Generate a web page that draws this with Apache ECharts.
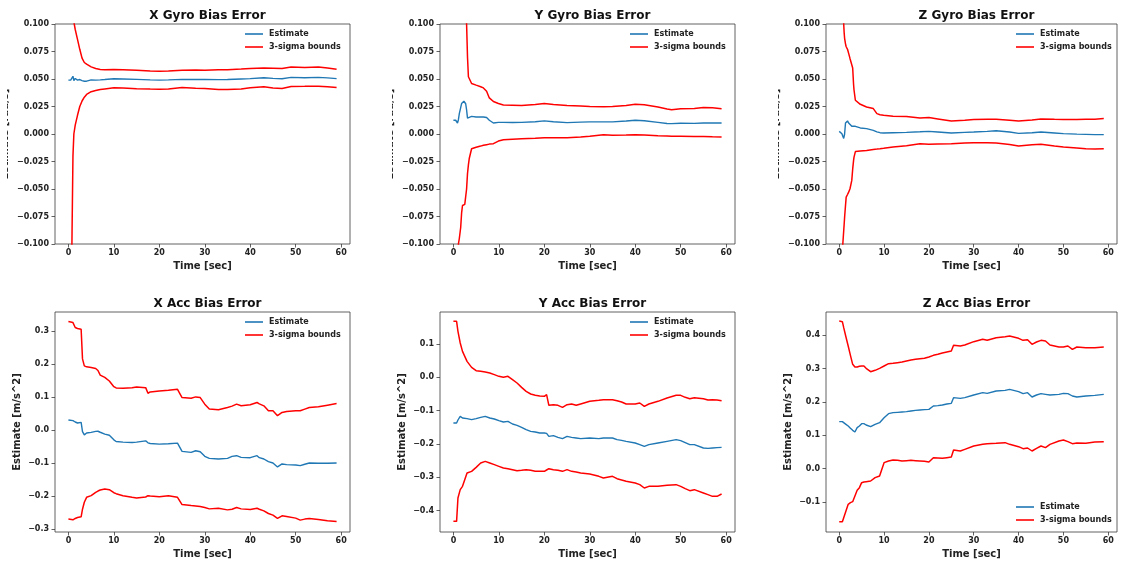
<!DOCTYPE html>
<html>
<head>
<meta charset="utf-8">
<script src="https://cdn.jsdelivr.net/npm/echarts@6/dist/echarts.min.js"></script>
<style>
  html, body { margin: 0; padding: 0; background: #ffffff; }
  #chart { width: 1121px; height: 563px; }
</style>
</head>
<body>
<div id="chart"></div>
<script>
// ---- X gyro bias ----
const xGyroTime = [0, 0.5, 0.8, 1.0, 1.2, 1.5, 2, 2.5, 3, 3.5, 4, 5, 6, 7, 8, 10, 12, 15, 18, 20, 22, 25, 28, 30, 33, 35, 38, 40, 43, 45, 47, 49, 52, 55, 57, 59];
const xGyroEst = [0.049, 0.049, 0.050, 0.0525, 0.0485, 0.0505, 0.049, 0.0495, 0.0485, 0.048, 0.048, 0.0492, 0.049, 0.0492, 0.0495, 0.0502, 0.050, 0.0497, 0.0492, 0.049, 0.0492, 0.0497, 0.0495, 0.0496, 0.0494, 0.0495, 0.050, 0.0503, 0.0512, 0.0506, 0.0502, 0.0515, 0.0512, 0.0515, 0.051, 0.0503];
const xGyroUp = [0.5, 0.3, 0.18, 0.125, 0.102, 0.095, 0.086, 0.077, 0.069, 0.065, 0.0635, 0.061, 0.0595, 0.0587, 0.0585, 0.0587, 0.0585, 0.058, 0.0572, 0.057, 0.0573, 0.058, 0.0582, 0.058, 0.0585, 0.0585, 0.059, 0.0596, 0.060, 0.0598, 0.0595, 0.061, 0.0605, 0.0608, 0.060, 0.0588];
const xGyroLo = [-0.4, -0.2, -0.09, -0.02, 0.0, 0.008, 0.017, 0.025, 0.030, 0.0335, 0.036, 0.0385, 0.0395, 0.0405, 0.041, 0.042, 0.0418, 0.0412, 0.0408, 0.0407, 0.041, 0.0422, 0.0415, 0.0413, 0.0405, 0.0404, 0.041, 0.042, 0.0429, 0.0418, 0.0413, 0.0432, 0.0433, 0.0435, 0.043, 0.0422];

// ---- Y gyro bias ----
const yGyroTime = [0, 0.5, 0.9, 1.1, 1.3, 1.6, 1.8, 2.0, 2.3, 2.5, 2.7, 2.9, 3.1, 3.3, 3.5, 4, 5, 6, 6.6, 7.3, 7.9, 8.8, 9.9, 11, 13, 15, 18, 20, 22, 25, 28, 30, 33, 35, 38, 40, 42, 45, 47, 48, 50, 53, 55, 57, 59];
const yGyroEst = [0.0125, 0.0125, 0.010, 0.013, 0.0185, 0.024, 0.0277, 0.029, 0.0298, 0.0295, 0.0275, 0.022, 0.0145, 0.014, 0.0155, 0.016, 0.0155, 0.0155, 0.0155, 0.015, 0.0125, 0.010, 0.0106, 0.0106, 0.0105, 0.0106, 0.0112, 0.0119, 0.0112, 0.0103, 0.0108, 0.011, 0.011, 0.011, 0.0118, 0.0125, 0.012, 0.0106, 0.0095, 0.0094, 0.0098, 0.0097, 0.0100, 0.0101, 0.0100];
const yGyroUp = [0.6, 0.45, 0.35, 0.3, 0.27, 0.23, 0.2, 0.18, 0.15, 0.13, 0.115, 0.1, 0.07, 0.052, 0.0505, 0.0459, 0.0444, 0.043, 0.0419, 0.0389, 0.0328, 0.0295, 0.0277, 0.0264, 0.0262, 0.026, 0.0268, 0.0277, 0.0268, 0.026, 0.0255, 0.025, 0.0248, 0.025, 0.026, 0.027, 0.0265, 0.0246, 0.0228, 0.022, 0.023, 0.0232, 0.024, 0.0238, 0.023];
const yGyroLo = [-0.6, -0.4, -0.2, -0.1, -0.095, -0.085, -0.072, -0.065, -0.064, -0.064, -0.0635, -0.05, -0.036, -0.028, -0.022, -0.0134, -0.012, -0.011, -0.0103, -0.0097, -0.0092, -0.0088, -0.0064, -0.0052, -0.0047, -0.0043, -0.0038, -0.0033, -0.0035, -0.0033, -0.0027, -0.0021, -0.0006, -0.0012, -0.0010, -0.0006, -0.0008, -0.0015, -0.0018, -0.0021, -0.0021, -0.0022, -0.0022, -0.0025, -0.0027];

// ---- Z gyro bias ----
const zGyroTime = [0, 0.6, 0.8, 1.0, 1.1, 1.2, 1.4, 1.55, 1.85, 2.1, 2.4, 2.8, 3.0, 3.2, 3.3, 3.6, 3.8, 4.7, 6.1, 7.6, 8.4, 9.1, 9.9, 12, 15, 18, 20, 22, 25, 28, 30, 33, 35, 38, 40, 43, 45, 48, 50, 53, 55, 57, 59];
const zGyroEst = [0.0024, 0.0003, -0.002, -0.004, -0.0058, 0.000, 0.010, 0.011, 0.0119, 0.010, 0.0088, 0.007, 0.0064, 0.0062, 0.0065, 0.007, 0.0065, 0.0055, 0.0049, 0.0033, 0.002, 0.0012, 0.0009, 0.0012, 0.0015, 0.002, 0.0024, 0.0018, 0.0009, 0.0015, 0.0018, 0.0024, 0.003, 0.0018, 0.0006, 0.0012, 0.0018, 0.0009, 0.0003, -0.0001, -0.0003, -0.0006, -0.0006];
const zGyroUp = [0.5, 0.2, 0.13, 0.1, 0.092, 0.087, 0.082, 0.0793, 0.077, 0.0733, 0.0687, 0.0672, 0.06, 0.045, 0.04, 0.0307, 0.029, 0.027, 0.0246, 0.0231, 0.0185, 0.0175, 0.017, 0.0161, 0.016, 0.0146, 0.0149, 0.0137, 0.0119, 0.0125, 0.0131, 0.0134, 0.0134, 0.0125, 0.0119, 0.0128, 0.0137, 0.0133, 0.0131, 0.0132, 0.0134, 0.0135, 0.014];
const zGyroLo = [-0.5, -0.25, -0.1, -0.088, -0.082, -0.0757, -0.065, -0.0574, -0.055, -0.0529, -0.0498, -0.0422, -0.032, -0.024, -0.021, -0.016, -0.0149, -0.0155, -0.0149, -0.014, -0.0137, -0.0134, -0.013, -0.0119, -0.0106, -0.0088, -0.0094, -0.009, -0.0088, -0.0082, -0.0079, -0.008, -0.0082, -0.0095, -0.0109, -0.0098, -0.0094, -0.011, -0.0119, -0.0128, -0.0134, -0.0136, -0.0134];

// ---- X accelerometer bias ----
const xAccTime = [0, 1, 1.5, 2, 2.8, 3.1, 3.5, 4, 5, 6, 6.5, 7, 8, 9, 10, 10.5, 12, 14, 15, 17, 17.5, 18, 20, 22, 24, 25, 27, 28, 29, 30, 31, 33, 35, 36, 37, 38, 40, 41.5, 42, 43, 44, 45, 46, 47, 48, 50, 51, 52, 53, 55, 57, 59];
const xAccEst = [0.030, 0.028, 0.024, 0.021, 0.023, -0.005, -0.015, -0.0095, -0.0075, -0.0045, -0.004, -0.007, -0.0125, -0.016, -0.030, -0.035, -0.037, -0.038, -0.037, -0.033, -0.039, -0.041, -0.043, -0.042, -0.040, -0.065, -0.068, -0.063, -0.066, -0.080, -0.086, -0.088, -0.086, -0.080, -0.078, -0.083, -0.084, -0.078, -0.084, -0.088, -0.096, -0.100, -0.112, -0.103, -0.105, -0.106, -0.108, -0.104, -0.100, -0.101, -0.101, -0.100];
const xAccUp = [0.328, 0.325, 0.310, 0.307, 0.305, 0.215, 0.194, 0.191, 0.189, 0.186, 0.180, 0.166, 0.159, 0.148, 0.131, 0.127, 0.126, 0.128, 0.130, 0.128, 0.111, 0.115, 0.118, 0.120, 0.123, 0.098, 0.096, 0.100, 0.098, 0.078, 0.063, 0.061, 0.068, 0.072, 0.078, 0.073, 0.076, 0.083, 0.079, 0.073, 0.058, 0.058, 0.043, 0.053, 0.056, 0.058, 0.058, 0.063, 0.068, 0.070, 0.075, 0.080];
const xAccLo = [-0.270, -0.272, -0.268, -0.265, -0.263, -0.240, -0.219, -0.204, -0.199, -0.189, -0.185, -0.182, -0.179, -0.181, -0.190, -0.193, -0.199, -0.204, -0.206, -0.203, -0.199, -0.200, -0.202, -0.199, -0.204, -0.226, -0.229, -0.230, -0.232, -0.235, -0.239, -0.237, -0.242, -0.240, -0.235, -0.239, -0.241, -0.237, -0.240, -0.245, -0.253, -0.258, -0.268, -0.260, -0.262, -0.267, -0.273, -0.270, -0.268, -0.271, -0.275, -0.277];

// ---- Y accelerometer bias ----
const yAccTime = [0, 0.7, 1, 1.5, 2, 3, 4, 5, 6, 7, 8, 9, 10, 11, 12, 13, 14, 15, 16, 17, 18, 19, 20, 20.5, 21, 22, 23, 24, 25, 26, 27, 28, 30, 32, 33, 35, 36, 37, 38, 40, 41, 42, 43, 45, 47, 49, 50, 51, 52, 53, 55, 56, 57, 58, 59];
const yAccEst = [-0.137, -0.137, -0.128, -0.117, -0.122, -0.124, -0.127, -0.124, -0.120, -0.117, -0.122, -0.125, -0.130, -0.134, -0.132, -0.140, -0.144, -0.150, -0.157, -0.162, -0.164, -0.167, -0.167, -0.168, -0.177, -0.175, -0.180, -0.184, -0.177, -0.180, -0.182, -0.184, -0.182, -0.184, -0.182, -0.182, -0.187, -0.189, -0.192, -0.197, -0.202, -0.207, -0.202, -0.197, -0.192, -0.187, -0.190, -0.196, -0.202, -0.202, -0.212, -0.213, -0.212, -0.211, -0.210];
const yAccUp = [0.168, 0.168, 0.138, 0.103, 0.078, 0.048, 0.030, 0.020, 0.018, 0.016, 0.013, 0.008, 0.003, 0.000, 0.003, -0.007, -0.017, -0.030, -0.042, -0.050, -0.054, -0.056, -0.057, -0.052, -0.084, -0.082, -0.084, -0.090, -0.082, -0.080, -0.084, -0.080, -0.072, -0.069, -0.067, -0.067, -0.070, -0.074, -0.080, -0.080, -0.077, -0.087, -0.080, -0.072, -0.062, -0.054, -0.054, -0.060, -0.064, -0.061, -0.064, -0.068, -0.067, -0.068, -0.070];
const yAccLo = [-0.432, -0.432, -0.362, -0.337, -0.327, -0.287, -0.282, -0.270, -0.257, -0.252, -0.257, -0.262, -0.267, -0.272, -0.274, -0.277, -0.280, -0.279, -0.277, -0.279, -0.282, -0.282, -0.282, -0.278, -0.274, -0.277, -0.279, -0.282, -0.277, -0.282, -0.284, -0.287, -0.290, -0.297, -0.302, -0.297, -0.304, -0.308, -0.312, -0.317, -0.322, -0.332, -0.327, -0.327, -0.324, -0.322, -0.327, -0.334, -0.340, -0.337, -0.347, -0.352, -0.357, -0.357, -0.350];

// ---- Z accelerometer bias ----
const zAccTime = [0, 0.7, 1, 1.5, 2, 2.5, 3, 3.5, 4, 4.5, 5, 5.5, 6, 7, 8, 9, 10, 11, 12, 13, 14, 15, 16, 17, 18, 19, 20, 21, 22, 23, 24, 25, 25.5, 27, 28, 30, 32, 33, 35, 37, 38, 40, 41, 42, 43, 44, 45, 46, 47, 49, 50, 51, 52, 53, 55, 57, 59];
const zAccEst = [0.141, 0.141, 0.138, 0.133, 0.128, 0.121, 0.115, 0.110, 0.123, 0.128, 0.135, 0.135, 0.131, 0.126, 0.133, 0.138, 0.153, 0.165, 0.168, 0.169, 0.170, 0.171, 0.173, 0.175, 0.176, 0.177, 0.178, 0.188, 0.189, 0.191, 0.194, 0.196, 0.213, 0.211, 0.213, 0.221, 0.228, 0.226, 0.233, 0.235, 0.238, 0.231, 0.225, 0.228, 0.215, 0.221, 0.225, 0.223, 0.221, 0.223, 0.226, 0.225, 0.218, 0.215, 0.218, 0.220, 0.223];
const zAccUp = [0.443, 0.441, 0.423, 0.395, 0.368, 0.340, 0.313, 0.305, 0.305, 0.307, 0.308, 0.308, 0.301, 0.291, 0.295, 0.301, 0.308, 0.315, 0.316, 0.318, 0.320, 0.323, 0.326, 0.328, 0.330, 0.331, 0.335, 0.340, 0.343, 0.347, 0.350, 0.353, 0.370, 0.368, 0.371, 0.381, 0.388, 0.385, 0.393, 0.396, 0.398, 0.391, 0.385, 0.387, 0.373, 0.380, 0.385, 0.383, 0.371, 0.365, 0.365, 0.368, 0.358, 0.365, 0.363, 0.363, 0.365];
const zAccLo = [-0.159, -0.159, -0.147, -0.127, -0.107, -0.102, -0.099, -0.082, -0.065, -0.057, -0.042, -0.040, -0.039, -0.037, -0.027, -0.022, 0.018, 0.023, 0.026, 0.025, 0.023, 0.024, 0.025, 0.024, 0.023, 0.022, 0.020, 0.033, 0.032, 0.031, 0.033, 0.035, 0.056, 0.053, 0.058, 0.068, 0.073, 0.075, 0.076, 0.078, 0.073, 0.066, 0.060, 0.062, 0.053, 0.061, 0.068, 0.063, 0.073, 0.083, 0.086, 0.081, 0.075, 0.077, 0.076, 0.080, 0.081];

// ---- tick values ----
const timeTicks = [0, 10, 20, 30, 40, 50, 60];
const gyroTicks = [-0.1, -0.075, -0.05, -0.025, 0, 0.025, 0.05, 0.075, 0.1];
const xAccTicks = [-0.3, -0.2, -0.1, 0, 0.1, 0.2, 0.3];
const yAccTicks = [-0.4, -0.3, -0.2, -0.1, 0, 0.1];
const zAccTicks = [-0.1, 0, 0.1, 0.2, 0.3, 0.4];

// ---- text ----
const panelTitles = ['X Gyro Bias Error', 'Y Gyro Bias Error', 'Z Gyro Bias Error',
                     'X Acc Bias Error', 'Y Acc Bias Error', 'Z Acc Bias Error'];
const seriesNames = ['Estimate', '3-sigma bounds'];
const timeLabel = 'Time [sec]';
const gyroYLabel = 'Estimate [rad/s]';
const accYLabel = 'Estimate [m/s^2]';

const FONT = 'DejaVu Sans';
const BLUE = '#1f77b4';
const RED = '#ff0000';
const INK = '#222222';
const SPINE = '#3a3a3a';

const panels = [
  { t: xGyroTime, est: xGyroEst, up: xGyroUp, lo: xGyroLo, ticks: gyroTicks, dec: 3, yMin: -0.1, yMax: 0.1,
    box: [55, 24, 295, 220], legend: 'upper' },
  { t: yGyroTime, est: yGyroEst, up: yGyroUp, lo: yGyroLo, ticks: gyroTicks, dec: 3, yMin: -0.1, yMax: 0.1,
    box: [440, 24, 295, 220], legend: 'upper' },
  { t: zGyroTime, est: zGyroEst, up: zGyroUp, lo: zGyroLo, ticks: gyroTicks, dec: 3, yMin: -0.1, yMax: 0.1,
    box: [826, 24, 291, 220], legend: 'upper' },
  { t: xAccTime, est: xAccEst, up: xAccUp, lo: xAccLo, ticks: xAccTicks, dec: 1, yMin: -0.309, yMax: 0.357,
    box: [55, 312, 295, 220], legend: 'upper', yName: accYLabel },
  { t: yAccTime, est: yAccEst, up: yAccUp, lo: yAccLo, ticks: yAccTicks, dec: 1, yMin: -0.464, yMax: 0.196,
    box: [440, 312, 295, 220], legend: 'upper', yName: accYLabel },
  { t: zAccTime, est: zAccEst, up: zAccUp, lo: zAccLo, ticks: zAccTicks, dec: 1, yMin: -0.190, yMax: 0.470,
    box: [826, 312, 291, 220], legend: 'lower', yName: accYLabel }
];

function pairs(t, v) { return t.map((x, i) => [x, v[i]]); }
function fmt(dec) {
  return function (v) {
    const s = Math.abs(v).toFixed(dec);
    return v < -1e-9 ? '\u2212' + s : s;
  };
}

const grid = [], xAxis = [], yAxis = [], series = [], title = [], legend = [];
const tickLine = { show: true, length: 3.5, lineStyle: { color: SPINE, width: 0.8 } };
const tickFont = { fontFamily: FONT, fontSize: 8, fontWeight: 'bold', color: INK };

panels.forEach((p, i) => {
  const [L, T, W, H] = p.box;
  grid.push({ left: L, top: T, width: W, height: H, show: true, borderColor: SPINE, borderWidth: 0.8,
              backgroundColor: 'transparent' });
  xAxis.push({
    type: 'value', gridIndex: i, min: -2.95, max: 61.95, position: 'bottom',
    axisLine: { show: false, onZero: false }, splitLine: { show: false },
    axisTick: Object.assign({ customValues: timeTicks }, tickLine),
    axisLabel: Object.assign({ customValues: timeTicks, margin: 5, formatter: v => String(v) }, tickFont),
    name: timeLabel, nameLocation: 'middle', nameGap: 17,
    nameTextStyle: { fontFamily: FONT, fontSize: 10, fontWeight: 'bold', color: INK }
  });
  yAxis.push({
    type: 'value', gridIndex: i, min: p.yMin, max: p.yMax, position: 'left',
    axisLine: { show: false, onZero: false }, splitLine: { show: false },
    axisTick: Object.assign({ customValues: p.ticks }, tickLine),
    axisLabel: Object.assign({ customValues: p.ticks, margin: 6, formatter: fmt(p.dec) }, tickFont),
    name: p.yName || '', nameLocation: 'middle', nameGap: 33,
    nameTextStyle: { fontFamily: FONT, fontSize: 10, fontWeight: 'bold', color: INK }
  });
  const common = { type: 'line', xAxisIndex: i, yAxisIndex: i, symbol: 'none', showSymbol: false,
                   animation: false, clip: true, silent: true };
  series.push(Object.assign({ name: seriesNames[0], data: pairs(p.t, p.est),
                              lineStyle: { color: BLUE, width: 1.4 }, itemStyle: { color: BLUE } }, common));
  series.push(Object.assign({ name: seriesNames[1], data: pairs(p.t, p.up),
                              lineStyle: { color: RED, width: 1.5 }, itemStyle: { color: RED } }, common));
  series.push(Object.assign({ name: seriesNames[1], data: pairs(p.t, p.lo),
                              lineStyle: { color: RED, width: 1.5 }, itemStyle: { color: RED } }, common));
  title.push({
    text: panelTitles[i], left: L + W / 2, top: T - 19, textAlign: 'center',
    textStyle: { fontFamily: FONT, fontSize: 12, fontWeight: 'bold', color: '#111' }
  });
  legend.push({
    data: seriesNames, orient: 'vertical', left: L + 190,
    top: p.legend === 'upper' ? T + 6 : T + H - 29,
    padding: 0, itemGap: 5, itemWidth: 18, itemHeight: 8, selectedMode: false,
    icon: 'path://M0,0 L18,0 L18,1.6 L0,1.6 Z',
    textStyle: { fontFamily: FONT, fontSize: 8, fontWeight: 'bold', color: INK, padding: [0, 0, 0, 1] }
  });
});

// Gyro y-axis captions, trimmed at their left side
const graphic = [];
[[5, 134], [390, 134], [776, 134]].forEach(([cx, cy]) => {
  graphic.push({
    type: 'text', x: cx, y: cy, rotation: Math.PI / 2, z: 10,
    style: { text: gyroYLabel, fontFamily: FONT, fontSize: 10, fontWeight: 'bold', fill: INK,
             align: 'center', verticalAlign: 'middle' }
  });
  graphic.push({
    type: 'rect', shape: { x: cx - 16, y: cy - 60, width: 18, height: 120 }, z: 11,
    style: { fill: '#ffffff' }
  });
});

const chart = echarts.init(document.getElementById('chart'), null, { renderer: 'canvas' });
chart.setOption({
  backgroundColor: '#ffffff',
  animation: false,
  title, legend, grid, xAxis, yAxis, series, graphic
});
</script>
</body>
</html>
